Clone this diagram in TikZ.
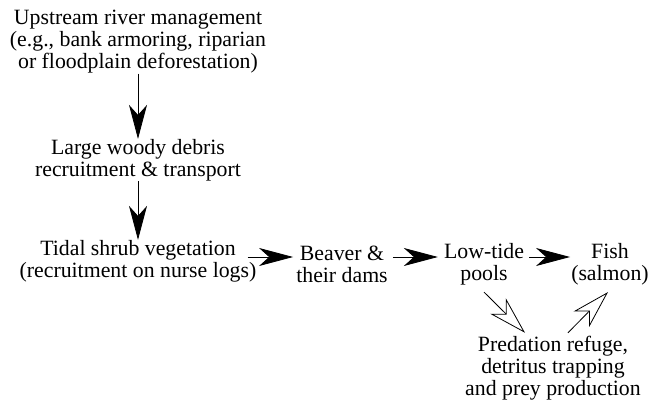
\documentclass[tikz,border=0pt]{standalone}
\usepackage{fontspec}
\setmainfont{Liberation Serif}
\usetikzlibrary{arrows.meta}

\begin{document}
\begin{tikzpicture}[x=1pt,y=-1pt,
  txt/.style={align=center,inner sep=0pt,font=\rmfamily\fontsize{21.8}{22}\selectfont},
  solidarr/.style={line width=0.8pt,-{Stealth[length=34pt,width=18pt,inset=10pt]}},
  openarr/.style={line width=0.8pt,-{Stealth[open,length=38pt,width=22pt,inset=11pt]}}]
\useasboundingbox (0,0) rectangle (649,404);
\node[txt] (upstream) at (138,42) {Upstream river management\\(e.g., bank armoring, riparian\\or floodplain deforestation)};
\node[txt] (debris) at (138,160) {Large woody debris\\recruitment \& transport};
\node[txt] (shrub) at (138,261) {Tidal shrub vegetation\\(recruitment on nurse logs)};
\node[txt] (beaver) at (342,264) {Beaver \&\\their dams};
\node[txt] (pools) at (484,264) {Low-tide\\pools};
\node[txt] (fish) at (610,264) {Fish\\(salmon)};
\node[txt] (refuge) at (553,368) {Predation refuge,\\detritus trapping\\and prey production};
% main chain
\draw[solidarr] (upstream.south) -- (debris.north);
\draw[solidarr] (debris.south) -- (shrub.north);
\draw[solidarr] ([xshift=-9pt,yshift=4pt]shrub.east) -- ([xshift=-3pt,yshift=7pt]beaver.west);
\draw[solidarr] ([xshift=5pt,yshift=7pt]beaver.east) -- ([xshift=-6pt,yshift=7pt]pools.west);
\draw[solidarr] ([xshift=5pt,yshift=7pt]pools.east) -- ([xshift=-1pt,yshift=7pt]fish.west);
% via refuge
\draw[openarr] ([yshift=-7pt]pools.south) -- ([xshift=-28pt,yshift=3pt]refuge.north);
\draw[openarr] ([xshift=15pt,yshift=3pt]refuge.north) -- ([xshift=-2pt,yshift=-7pt]fish.south);
\end{tikzpicture}
\end{document}
